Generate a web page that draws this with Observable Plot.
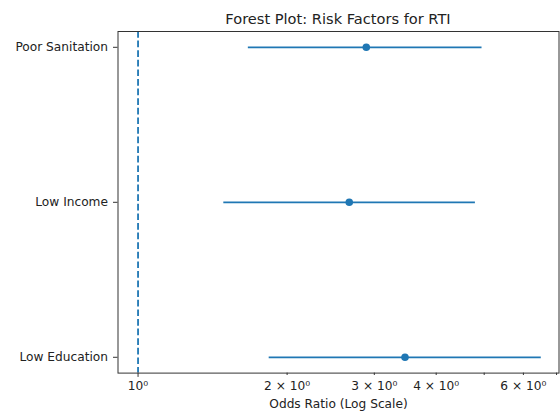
<!DOCTYPE html>
<html>
<head>
<meta charset="utf-8">
<script src="https://cdn.jsdelivr.net/npm/d3@7"></script>
<script src="https://cdn.jsdelivr.net/npm/@observablehq/plot@0.6"></script>
<style>
  html, body { margin: 0; padding: 0; background: #fff; }
  #title {
    width: 560px; height: 26px; box-sizing: border-box;
    padding-left: 117.5px; padding-right: 1.5px; padding-top: 11px;
    font-family: "DejaVu Sans", sans-serif; font-size: 14.6px; line-height: 15px;
    text-align: center; color: #222;
  }
  svg { display: block; }
</style>
</head>
<body>
<div id="title">Forest Plot: Risk Factors for RTI</div>
<div id="chart"></div>
<script>
const factors   = ["Poor Sanitation", "Low Income", "Low Education"];
const oddsRatio = [2.89, 2.67, 3.46];
const ciLower   = [1.67, 1.49, 1.84];
const ciUpper   = [4.95, 4.80, 6.52];
const refLine   = [1];
const majorTicks = [1];
const minorTicks = [2, 3, 4, 5, 6, 7];
const labelTicks = [1, 2, 3, 4, 6];
const tickLabels = ["10⁰", "2 × 10⁰", "3 × 10⁰", "4 × 10⁰", "6 × 10⁰"];
const xLabel = "Odds Ratio (Log Scale)";

const rows = factors.map((f, i) => ({factor: f, or: oddsRatio[i], lo: ciLower[i], hi: ciUpper[i]}));
const fmt = (d) => tickLabels[labelTicks.indexOf(d)];
const C0 = "#1f77b4";
const W = 560, H = 386, mt = 5, mb = 39.4;

const chart = Plot.plot({
  width: W, height: H,
  marginLeft: 117.5, marginRight: 1.5, marginTop: mt, marginBottom: mb,
  style: {fontFamily: "DejaVu Sans, sans-serif", fontSize: "12.2px", color: "#222", background: "#fff"},
  x: {type: "log", domain: [0.911, 7.08]},
  y: {type: "point", domain: factors, padding: 0.102, round: false},
  marks: [
    Plot.ruleX(refLine, {stroke: C0, strokeWidth: 1.8, strokeDasharray: "6.7,2.9"}),
    Plot.ruleY(rows, {y: "factor", x1: "lo", x2: "hi", stroke: C0, strokeWidth: 1.8}),
    Plot.dot(rows, {x: "or", y: "factor", r: 3.8, fill: C0, stroke: null}),
    Plot.frame({stroke: "#333", strokeWidth: 1}),
    Plot.axisX(labelTicks, {tickSize: 0, tickPadding: 8.7, tickFormat: fmt, label: null, fontSize: "12.2px"}),
    Plot.axisX(majorTicks, {tickSize: 4.3, tickFormat: () => "", label: null, stroke: "#333"}),
    Plot.axisX(minorTicks, {tickSize: 2.4, tickFormat: () => "", label: null, stroke: "#333"}),
    Plot.axisY({tickSize: 4.5, tickPadding: 5.5, label: null, stroke: "#333", fontSize: "12.2px"}),
    Plot.text([xLabel], {frameAnchor: "bottom", dy: 35, fontSize: "12.2px", fill: "#222"})
  ]
});
document.getElementById("chart").appendChild(chart);
</script>
</body>
</html>
